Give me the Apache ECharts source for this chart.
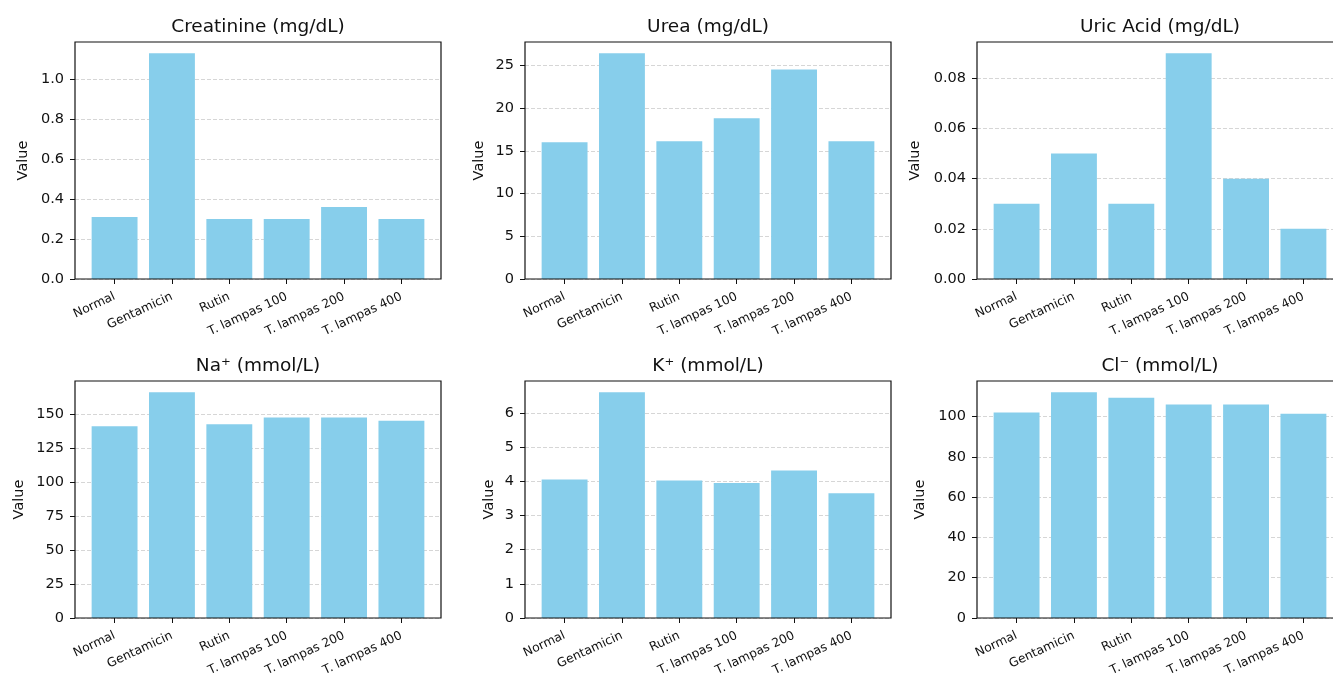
<!DOCTYPE html>
<html>
<head>
<meta charset="utf-8">
<script src="https://cdn.jsdelivr.net/npm/echarts@6/dist/echarts.min.js"></script>
<style>
  html, body { margin: 0; padding: 0; background: #ffffff; }
  #chart { width: 1333px; height: 675px; }
</style>
</head>
<body>
<div id="chart"></div>
<script>
// Treatment groups shared by every panel
const categories = ['Normal', 'Gentamicin', 'Rutin', 'T. lampas 100', 'T. lampas 200', 'T. lampas 400'];

// Serum biochemistry per group
const creatinine = [0.31, 1.13, 0.30, 0.30, 0.36, 0.30];
const urea       = [16.0, 26.4, 16.1, 18.8, 24.5, 16.1];
const uricAcid   = [0.03, 0.05, 0.03, 0.09, 0.04, 0.02];
const sodium     = [141.0, 166.0, 142.5, 147.5, 147.5, 145.0];
const potassium  = [4.05, 6.60, 4.02, 3.95, 4.31, 3.65];
const chloride   = [102.0, 112.0, 109.3, 106.0, 106.0, 101.3];

// Panel titles
const titles = ['Creatinine (mg/dL)', 'Urea (mg/dL)', 'Uric Acid (mg/dL)',
                'Na\u207A (mmol/L)', 'K\u207A (mmol/L)', 'Cl\u207B (mmol/L)'];

// Y tick labels per panel
const creatinineTicks = ['0.0', '0.2', '0.4', '0.6', '0.8', '1.0'];
const ureaTicks       = ['0', '5', '10', '15', '20', '25'];
const uricAcidTicks   = ['0.00', '0.02', '0.04', '0.06', '0.08'];
const sodiumTicks     = ['0', '25', '50', '75', '100', '125', '150'];
const potassiumTicks  = ['0', '1', '2', '3', '4', '5', '6'];
const chlorideTicks   = ['0', '20', '40', '60', '80', '100'];

const panels = [
  { title: titles[0], values: creatinine, ticks: creatinineTicks },
  { title: titles[1], values: urea,       ticks: ureaTicks },
  { title: titles[2], values: uricAcid,   ticks: uricAcidTicks },
  { title: titles[3], values: sodium,     ticks: sodiumTicks },
  { title: titles[4], values: potassium,  ticks: potassiumTicks },
  { title: titles[5], values: chloride,   ticks: chlorideTicks }
];

// Layout of the 2 x 3 panel grid (pixels)
const colLeft = [75, 525, 977];
const rowTop = [42, 381];
const plotW = 366, plotH = 237;
const nameGaps = [44, 38, 54, 48, 28, 49];
const FONT = 'DejaVu Sans';
const BAR = '#87CEEB';

// Category slots span 6.38 units (bars of 0.8 plus 5% margins), so the bars sit inset from the frame
const unit = plotW / 6.38;
const inset = 0.19 * unit;

const grid = [], xAxis = [], yAxis = [], series = [], title = [];

panels.forEach((p, i) => {
  const left = colLeft[i % 3];
  const top = rowTop[Math.floor(i / 3)];
  const tickVals = p.ticks.map(Number);
  const step = tickVals[1] - tickVals[0];
  const decimals = (p.ticks[1].split('.')[1] || '').length;
  const yMax = Math.max(...p.values) * 1.05;

  // Frame grid: box, y axis, gridlines
  const fi = grid.length;
  grid.push({ left: left, top: top, width: plotW, height: plotH, show: true,
              outerBoundsMode: 'none', containLabel: false,
              borderColor: '#111', borderWidth: 1.2, backgroundColor: 'transparent', z: 10 });
  xAxis.push({ gridIndex: fi, type: 'value', min: 0, max: 1, show: false });
  yAxis.push({
    gridIndex: fi, type: 'value', min: 0, max: yMax, interval: step,
    name: 'Value', nameLocation: 'middle', nameGap: nameGaps[i],
    nameTextStyle: { fontFamily: FONT, fontSize: 14.5, color: '#111' },
    axisLine: { show: false },
    axisTick: { show: true, inside: false, length: 5, customValues: tickVals,
                lineStyle: { color: '#111', width: 1 } },
    axisLabel: { fontFamily: FONT, fontSize: 14.5, color: '#111', margin: 11,
                 customValues: tickVals, formatter: v => v.toFixed(decimals) },
    splitLine: { show: true, lineStyle: { color: '#d6d6d6', width: 1, type: [4, 2] } }
  });

  // Data grid: category axis and bars
  const di = grid.length;
  grid.push({ left: left + inset, top: top, width: plotW - 2 * inset, height: plotH,
              outerBoundsMode: 'none', containLabel: false });
  xAxis.push({
    gridIndex: di, type: 'category', data: categories, boundaryGap: true,
    axisLine: { show: false },
    axisTick: { show: true, alignWithLabel: true, length: 5, lineStyle: { color: '#111', width: 1 } },
    axisLabel: { interval: 0, rotate: 25, fontFamily: FONT, fontSize: 12.3, color: '#111', margin: 17 }
  });
  yAxis.push({ gridIndex: di, type: 'value', min: 0, max: yMax, show: false, splitLine: { show: false } });
  series.push({
    type: 'bar', xAxisIndex: di, yAxisIndex: di, data: p.values,
    barWidth: '80%', itemStyle: { color: BAR }, silent: true
  });

  title.push({
    text: p.title, left: left + plotW / 2, top: top - 24, textAlign: 'center', padding: 0,
    textStyle: { fontFamily: FONT, fontSize: 18.5, fontWeight: 'normal', color: '#111' }
  });
});

const chart = echarts.init(document.getElementById('chart'), null, { renderer: 'canvas' });
chart.setOption({ animation: false, backgroundColor: '#fff', title, grid, xAxis, yAxis, series });
</script>
</body>
</html>
